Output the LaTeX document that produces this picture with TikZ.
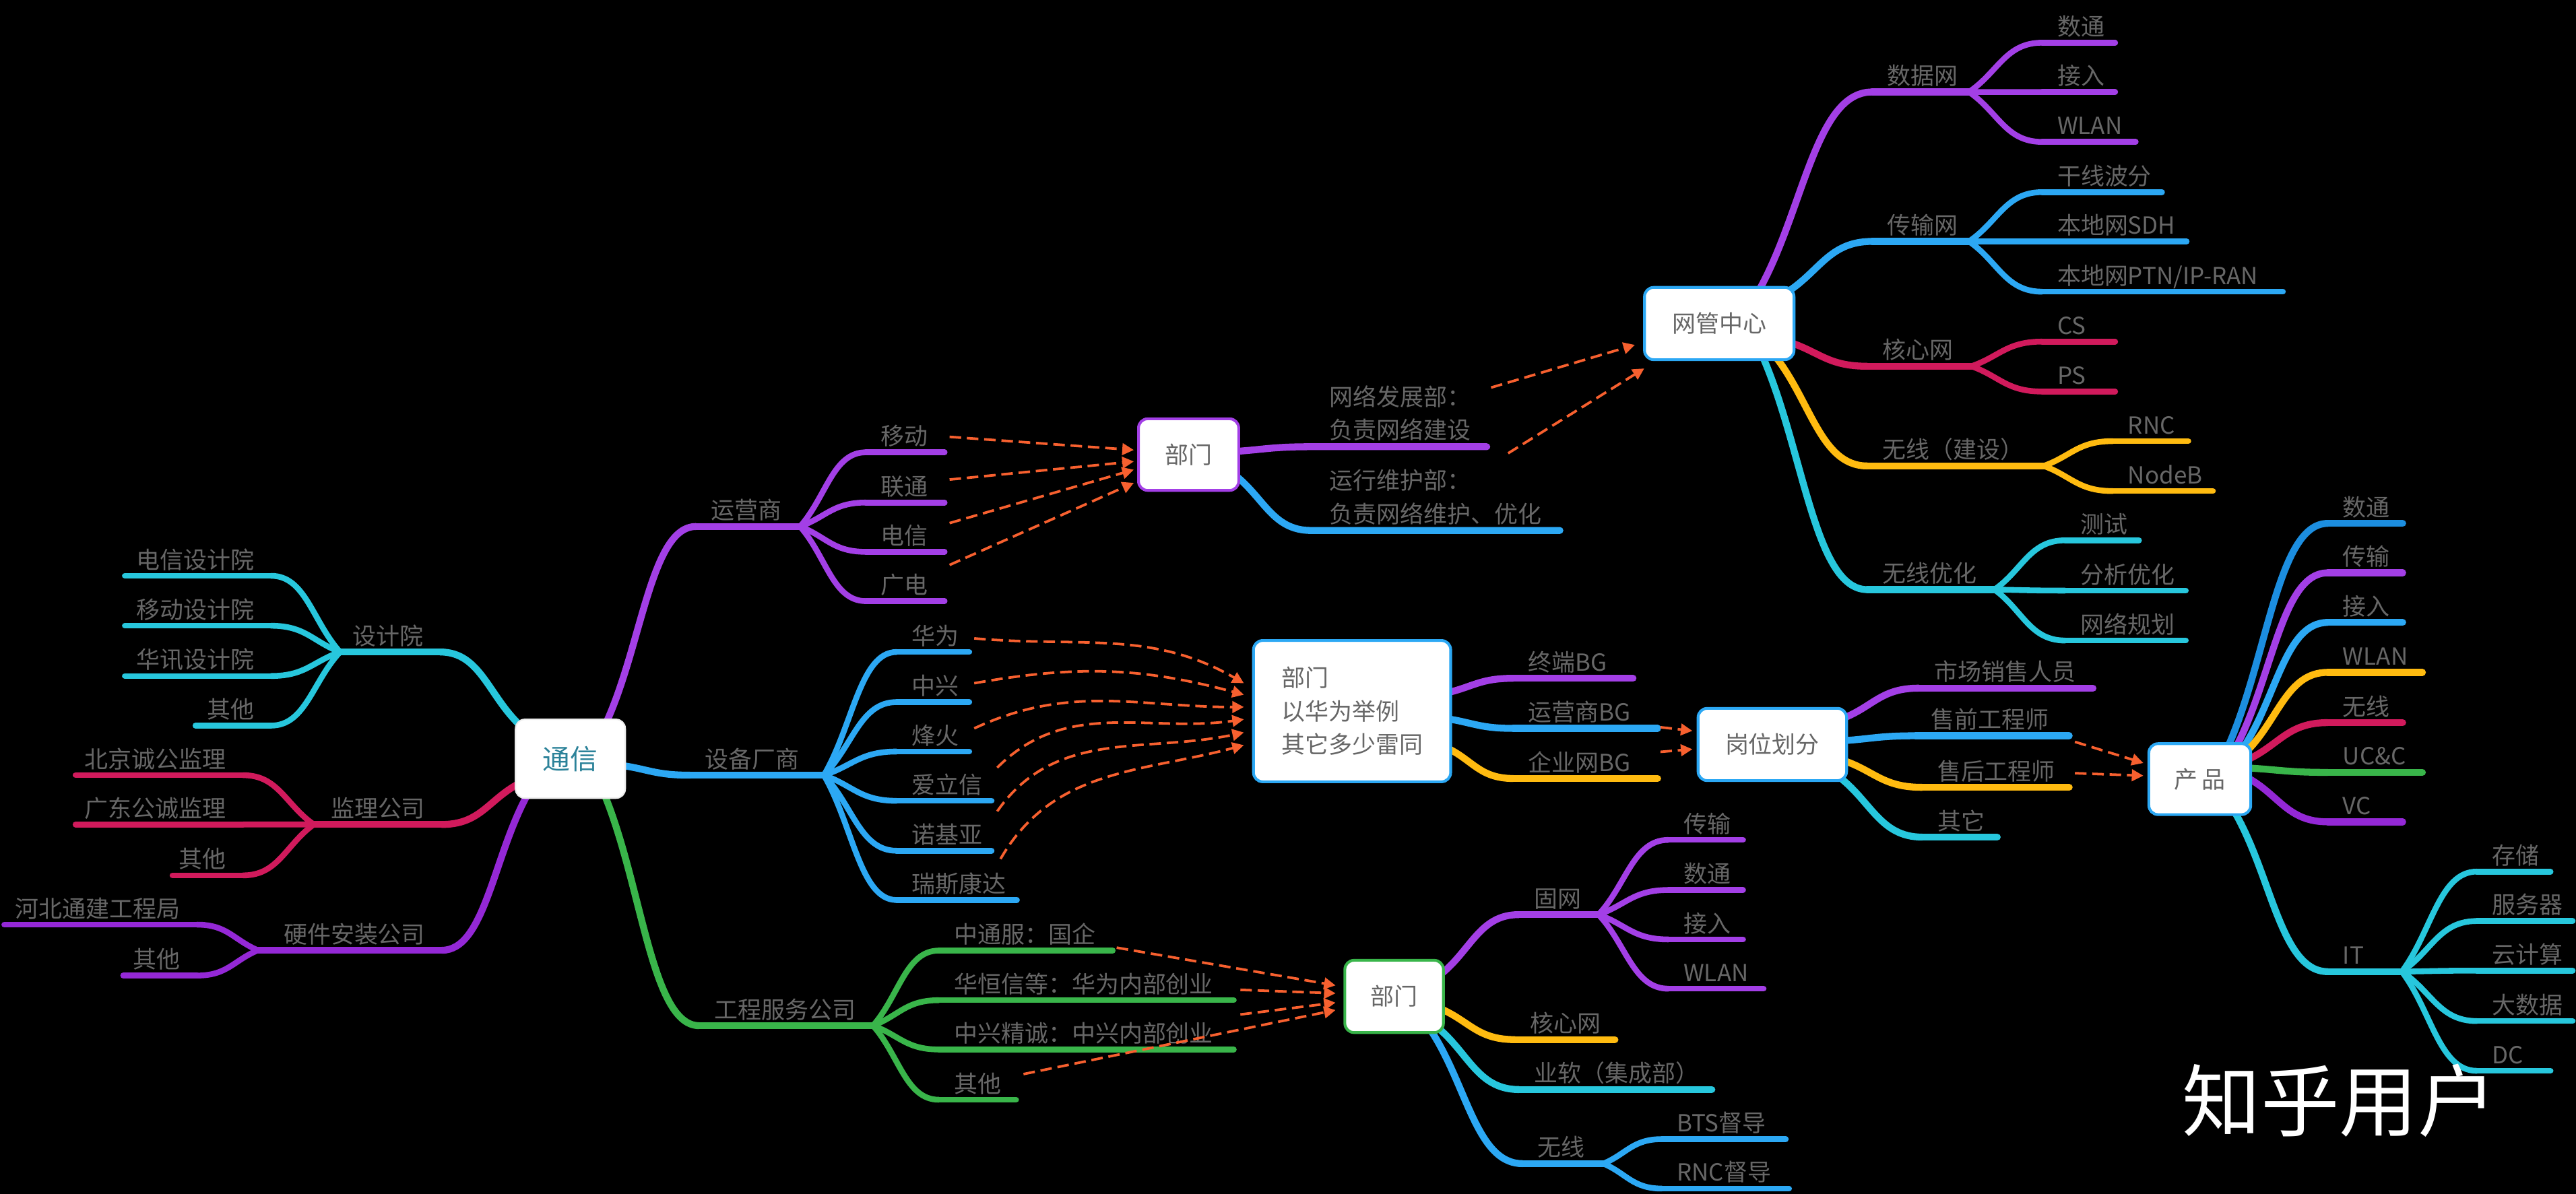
\documentclass[tikz,border=0pt]{standalone}
\usepackage{fontspec}
\setmainfont{Noto Sans CJK SC}
\usepackage{tikz}
\usetikzlibrary{arrows.meta,calc}
\usepackage{xcolor}

\definecolor{mmpurple}{HTML}{A33FE6}
\definecolor{mmviolet}{HTML}{9428D6}
\definecolor{mmblue}{HTML}{2CA8F4}
\definecolor{mmdeep}{HTML}{1C8EE0}
\definecolor{mmcyan}{HTML}{27C7DD}
\definecolor{mmred}{HTML}{D11A5C}
\definecolor{mmamber}{HTML}{FFBB10}
\definecolor{mmgreen}{HTML}{39B54A}
\definecolor{mmorange}{HTML}{F7602F}
\definecolor{mmgray}{HTML}{676767}
\definecolor{mmteal}{HTML}{2B8299}
\definecolor{mmlight}{HTML}{EDEDED}

\tikzset{
  trunk/.style={line width=3pt, line cap=round},
  twig/.style={line width=2.5pt, line cap=round},
  curvy/.style={to path={.. controls ($(\tikztostart)!.4!(\tikztotarget)$) and ($(\tikztotarget)!.5!(\tikztostart|-\tikztotarget)$) .. (\tikztotarget)}},
  word/.style={text=mmgray, inner sep=0pt, font=\fontsize{10.2}{14.4}\selectfont},
  box/.style={draw=#1, fill=white, line width=1.2pt, rounded corners=4pt, text=mmgray, font=\fontsize{10.2}{14.4}\selectfont},
  link/.style={mmorange, line width=1.1pt, dash pattern=on 5pt off 2.5pt, -{Triangle[length=5pt,width=5pt]}},
}

% topic growing to the right / to the left: name, x1, x2, y, colour, text
\newcommand{\rtopic}[7][twig]{%
  \coordinate (#2-a) at (#3,-#5);
  \coordinate (#2-b) at (#4,-#5);
  \draw[#6, #1] (#2-a) -- (#2-b);
  \node[word, anchor=base west] (#2) at ($(#2-a)+(9,4.5)$) {#7};
}
\newcommand{\ltopic}[7][twig]{%
  \coordinate (#2-a) at (#3,-#5);
  \coordinate (#2-b) at (#4,-#5);
  \draw[#6, #1] (#2-a) -- (#2-b);
  \node[word, anchor=base east] (#2) at ($(#2-b)+(-10,4.5)$) {#7};
}

\begin{document}
\begin{tikzpicture}[x=0.025cm, y=0.025cm]
\path[use as bounding box, fill=black] (0,0) rectangle (1568,-727);

\coordinate (tx-sjy) at (317,-442);
\coordinate (tx-yys) at (369,-440);
\coordinate (tx-sb) at (378,-466);
\coordinate (tx-jl) at (316,-477);
\coordinate (tx-yj) at (321,-484);
\coordinate (tx-gc) at (368,-484);
\coordinate (bm1-p1) at (750,-275);
\coordinate (bm1-p2) at (750,-288);
\coordinate (wg-p1) at (1070,-178);
\coordinate (wg-p2) at (1086,-179);
\coordinate (wg-p3) at (1088,-208);
\coordinate (wg-p4) at (1079,-215);
\coordinate (wg-p5) at (1072,-215);
\coordinate (bm2-p1) at (880,-422);
\coordinate (bm2-p2) at (880,-437.5);
\coordinate (bm2-p3) at (880,-455);
\coordinate (gw-p1) at (1122,-437.3);
\coordinate (gw-p2) at (1122,-451);
\coordinate (gw-p3) at (1122,-463);
\coordinate (gw-p4) at (1118,-472);
\coordinate (cp-p1) at (1356,-455);
\coordinate (cp-p2) at (1361,-455);
\coordinate (cp-p3) at (1365,-456);
\coordinate (cp-p4) at (1367,-458);
\coordinate (cp-p5) at (1368,-462.6);
\coordinate (cp-p6) at (1368,-467.6);
\coordinate (cp-p7) at (1368,-473.5);
\coordinate (cp-p8) at (1360,-494);
\coordinate (bm3-p1) at (876,-594);
\coordinate (bm3-p2) at (876,-613.8);
\coordinate (bm3-p3) at (873,-624);
\coordinate (bm3-p4) at (870,-626);

% left side
\ltopic[trunk]{sjy}{207}{268}{397}{mmcyan}{设计院}
\draw[mmcyan, trunk] (tx-sjy) to[curvy] (sjy-b);
\ltopic{dxsj}{76}{165}{350.6}{mmcyan}{电信设计院}
\ltopic{ydsj}{76}{165}{381}{mmcyan}{移动设计院}
\ltopic{hxsj}{76}{165}{411.6}{mmcyan}{华讯设计院}
\ltopic{sjqt}{119}{165}{441.8}{mmcyan}{其他}
\foreach \k in {dxsj,ydsj,hxsj,sjqt} \draw[mmcyan, twig] (sjy-a) to[curvy] (\k-b);

\ltopic[trunk]{jl}{191}{269}{502}{mmred}{监理公司}
\draw[mmred, trunk] (tx-jl) to[curvy] (jl-b);
\ltopic{bjjl}{46}{148}{472}{mmred}{北京诚公监理}
\ltopic{gdjl}{46}{148}{502}{mmred}{广东公诚监理}
\ltopic{jlqt}{105}{148}{533}{mmred}{其他}
\foreach \k in {bjjl,gdjl,jlqt} \draw[mmred, twig] (jl-a) to[curvy] (\k-b);

\ltopic[trunk]{yj}{157}{269}{578.6}{mmviolet}{硬件安装公司}
\draw[mmviolet, trunk] (tx-yj) to[curvy] (yj-b);
\ltopic{hbtj}{2.6}{120}{563}{mmviolet}{河北通建工程局}
\ltopic{yjqt}{75}{120}{594}{mmviolet}{其他}
\foreach \k in {hbtj,yjqt} \draw[mmviolet, twig] (yj-a) to[curvy] (\k-b);

% 运营商
\rtopic[trunk]{yys}{423.6}{487}{320.6}{mmpurple}{运营商}
\draw[mmpurple, trunk] (tx-yys) to[curvy] (yys-a);
\rtopic{ydg}{527}{575}{275.4}{mmpurple}{移动}
\rtopic{lt}{527}{575}{306}{mmpurple}{联通}
\rtopic{dxx}{527}{575}{336}{mmpurple}{电信}
\rtopic{gdn}{527}{575}{366}{mmpurple}{广电}
\foreach \k in {ydg,lt,dxx,gdn} \draw[mmpurple, twig] (yys-b) to[curvy] (\k-a);

\coordinate (wlfz-a) at (798,-272);
\coordinate (wlfz-b) at (905,-272);
\draw[mmpurple, trunk] (bm1-p1) to[curvy] (wlfz-a) -- (wlfz-b);
\node[word, align=left, anchor=south west] (wlfz) at ($(wlfz-a)+(11,3.3)$) {网络发展部：\\负责网络建设};
\coordinate (yxwh-a) at (798,-323);
\coordinate (yxwh-b) at (949.5,-323);
\draw[mmblue, trunk] (bm1-p2) to[curvy] (yxwh-a) -- (yxwh-b);
\node[word, align=left, anchor=south west] (yxwh) at ($(yxwh-a)+(11,3.3)$) {运行维护部：\\负责网络维护、优化};

% 网管中心
\rtopic[trunk]{sjw}{1139.5}{1198.5}{56}{mmpurple}{数据网}
\draw[mmpurple, trunk] (wg-p1) to[curvy] (sjw-a);
\rtopic{st1}{1243}{1287.5}{26}{mmpurple}{数通}
\rtopic{jr1}{1243}{1287.5}{56}{mmpurple}{接入}
\rtopic{wlan1}{1243}{1300}{86.4}{mmpurple}{WLAN}
\foreach \k in {st1,jr1,wlan1} \draw[mmpurple, twig] (sjw-b) to[curvy] (\k-a);

\rtopic[trunk]{csw}{1139.5}{1198.5}{147}{mmblue}{传输网}
\draw[mmblue, trunk] (wg-p2) to[curvy] (csw-a);
\rtopic{gxbf}{1243}{1316}{117}{mmblue}{干线波分}
\rtopic{sdh}{1243}{1331}{147}{mmblue}{本地网SDH}
\rtopic{ptn}{1243}{1389.6}{177.6}{mmblue}{本地网PTN/IP-RAN}
\foreach \k in {gxbf,sdh,ptn} \draw[mmblue, twig] (csw-b) to[curvy] (\k-a);

\rtopic[trunk]{hxw}{1136.5}{1200}{223}{mmred}{核心网}
\draw[mmred, trunk] (wg-p3) to[curvy] (hxw-a);
\rtopic{cs}{1243}{1287.5}{208}{mmred}{CS}
\rtopic{ps}{1243}{1287.5}{238.4}{mmred}{PS}
\foreach \k in {cs,ps} \draw[mmred, twig] (hxw-b) to[curvy] (\k-a);

\rtopic[trunk]{wxjs}{1136.5}{1244}{283.7}{mmamber}{无线（建设）}
\draw[mmamber, trunk] (wg-p4) to[curvy] (wxjs-a);
\rtopic{rnc}{1286}{1332}{268.6}{mmamber}{RNC}
\rtopic{nodeb}{1286}{1347}{299}{mmamber}{NodeB}
\foreach \k in {rnc,nodeb} \draw[mmamber, twig] (wxjs-b) to[curvy] (\k-a);

\rtopic[trunk]{wxyh}{1136.5}{1214}{359}{mmcyan}{无线优化}
\draw[mmcyan, trunk] (wg-p5) to[curvy] (wxyh-a);
\rtopic{cshi}{1257}{1302}{329}{mmcyan}{测试}
\rtopic{fxyh}{1257}{1330.5}{359.6}{mmcyan}{分析优化}
\rtopic{wlgh}{1257}{1330.5}{390}{mmcyan}{网络规划}
\foreach \k in {cshi,fxyh,wlgh} \draw[mmcyan, twig] (wxyh-b) to[curvy] (\k-a);

% 设备厂商
\rtopic[trunk]{sb}{420}{501.5}{472}{mmblue}{设备厂商}
\draw[mmblue, trunk] (tx-sb) to[curvy] (sb-a);
\rtopic{hw}{545.7}{590}{397}{mmblue}{华为}
\rtopic{zx}{545.7}{590}{427.5}{mmblue}{中兴}
\rtopic{fh}{545.7}{590}{457.6}{mmblue}{烽火}
\rtopic{alx}{545.7}{603.6}{487.6}{mmblue}{爱立信}
\rtopic{nkia}{545.7}{603.6}{518}{mmblue}{诺基亚}
\rtopic{rskd}{545.7}{619}{548}{mmblue}{瑞斯康达}
\foreach \k in {hw,zx,fh,alx,nkia,rskd} \draw[mmblue, twig] (sb-b) to[curvy] (\k-a);

\rtopic[trunk]{zdbg}{921}{994}{413}{mmpurple}{终端BG}
\draw[mmpurple, trunk] (bm2-p1) to[curvy] (zdbg-a);
\rtopic[trunk]{yysbg}{921}{1009}{443.5}{mmblue}{运营商BG}
\draw[mmblue, trunk] (bm2-p2) to[curvy] (yysbg-a);
\rtopic[trunk]{qywbg}{921}{1009}{474}{mmamber}{企业网BG}
\draw[mmamber, trunk] (bm2-p3) to[curvy] (qywbg-a);

\rtopic[trunk]{scxs}{1168}{1274}{419}{mmpurple}{市场销售人员}
\draw[mmpurple, trunk] (gw-p1) to[curvy] (scxs-a);
\rtopic[trunk]{sqgc}{1166}{1259.5}{448}{mmblue}{售前工程师}
\draw[mmblue, trunk] (gw-p2) to[curvy] (sqgc-a);
\rtopic[trunk]{shgc}{1170}{1259.5}{479.4}{mmamber}{售后工程师}
\draw[mmamber, trunk] (gw-p3) to[curvy] (shgc-a);
\rtopic[trunk]{gwqt}{1170}{1215.7}{509.7}{mmcyan}{其它}
\draw[mmcyan, trunk] (gw-p4) to[curvy] (gwqt-a);

% 产品
\rtopic[trunk]{pst}{1416.8}{1462.5}{318.7}{mmdeep}{数通}
\draw[mmdeep, trunk] (cp-p1) to[curvy] (pst-a);
\rtopic[trunk]{pcs}{1416.8}{1462.5}{348.8}{mmpurple}{传输}
\draw[mmpurple, trunk] (cp-p2) to[curvy] (pcs-a);
\rtopic[trunk]{pjr}{1416.8}{1462.5}{379}{mmblue}{接入}
\draw[mmblue, trunk] (cp-p3) to[curvy] (pjr-a);
\rtopic[trunk]{pwlan}{1416.8}{1474.5}{409.4}{mmamber}{WLAN}
\draw[mmamber, trunk] (cp-p4) to[curvy] (pwlan-a);
\rtopic[trunk]{pwx}{1416.8}{1462.5}{440}{mmred}{无线}
\draw[mmred, trunk] (cp-p5) to[curvy] (pwx-a);
\rtopic[trunk]{pucc}{1416.8}{1474.5}{470.3}{mmgreen}{UC\&C}
\draw[mmgreen, trunk] (cp-p6) to[curvy] (pucc-a);
\rtopic[trunk]{pvc}{1416.8}{1462.5}{500.4}{mmviolet}{VC}
\draw[mmviolet, trunk] (cp-p7) to[curvy] (pvc-a);
\rtopic[trunk]{pit}{1416.8}{1462}{591.6}{mmcyan}{IT}
\draw[mmcyan, trunk] (cp-p8) to[curvy] (pit-a);
\rtopic{cc}{1507.6}{1552.5}{530.7}{mmcyan}{存储}
\rtopic{fwq}{1507.6}{1566}{560.8}{mmcyan}{服务器}
\rtopic{yjs}{1507.6}{1566}{591}{mmcyan}{云计算}
\rtopic{dsj}{1507.6}{1566}{621.7}{mmcyan}{大数据}
\rtopic{dcc}{1507.6}{1552.5}{652}{mmcyan}{DC}
\foreach \k in {cc,fwq,yjs,dsj,dcc} \draw[mmcyan, twig] (pit-b) to[curvy] (\k-a);

% 工程服务公司
\rtopic[trunk]{gc}{425.5}{531.4}{624.5}{mmgreen}{工程服务公司}
\draw[mmgreen, trunk] (tx-gc) to[curvy] (gc-a);
\rtopic{ztf}{571.4}{677.3}{578.8}{mmgreen}{中通服：国企}
\rtopic{hhx}{571.4}{751}{609}{mmgreen}{华恒信等：华为内部创业}
\rtopic{zxjc}{571.4}{751}{639}{mmgreen}{中兴精诚：中兴内部创业}
\rtopic{gcqt}{571.4}{618.5}{669.6}{mmgreen}{其他}
\foreach \k in {ztf,hhx,zxjc,gcqt} \draw[mmgreen, twig] (gc-b) to[curvy] (\k-a);

\rtopic[trunk]{gwang}{924.5}{973}{556.9}{mmpurple}{固网}
\draw[mmpurple, trunk] (bm3-p1) to[curvy] (gwang-a);
\rtopic{gcs}{1015.5}{1061}{511.4}{mmpurple}{传输}
\rtopic{gst}{1015.5}{1061}{541.9}{mmpurple}{数通}
\rtopic{gjr}{1015.5}{1061}{572}{mmpurple}{接入}
\rtopic{gwl}{1015.5}{1073.5}{602}{mmpurple}{WLAN}
\foreach \k in {gcs,gst,gjr,gwl} \draw[mmpurple, twig] (gwang-b) to[curvy] (\k-a);
\rtopic[trunk]{ghx}{922}{983}{633}{mmamber}{核心网}
\draw[mmamber, trunk] (bm3-p2) to[curvy] (ghx-a);
\rtopic[trunk]{yr}{924.5}{1042}{663.4}{mmcyan}{业软（集成部）}
\draw[mmcyan, trunk] (bm3-p3) to[curvy] (yr-a);
\rtopic[trunk]{gwx}{926.6}{976}{708.5}{mmblue}{无线}
\draw[mmblue, trunk] (bm3-p4) to[curvy] (gwx-a);
\rtopic{bts}{1011.5}{1087}{693.6}{mmblue}{BTS督导}
\rtopic{rncdd}{1011.5}{1089}{723.7}{mmblue}{RNC督导}
\foreach \k in {bts,rncdd} \draw[mmblue, twig] (gwx-b) to[curvy] (\k-a);

% boxes
\node[box=mmlight, line width=0.6pt, text=mmteal, font=\fontsize{11.9}{14}\selectfont, minimum width=1.67cm, minimum height=1.2cm] (tx) at (347.2,-462) {通信};
\node[box=mmpurple, minimum width=1.525cm, minimum height=1.09cm] (bm1) at (723.5,-276.8) {部门};
\node[box=mmblue, minimum width=2.275cm, minimum height=1.1cm] (wg) at (1046.5,-197) {网管中心};
\node[box=mmblue, align=left, minimum width=3cm, minimum height=2.15cm] (bm2) at (823,-433) {部门\\以华为举例\\其它多少雷同};
\node[box=mmblue, minimum width=2.26cm, minimum height=1.1cm] (gw) at (1078.8,-453.3) {岗位划分};
\node[box=mmblue, minimum width=1.55cm, minimum height=1.08cm] (cp) at (1339,-474.4) {产\hspace{2pt}品};
\node[box=mmgreen, minimum width=1.5cm, minimum height=1.1cm] (bm3) at (848.6,-606.7) {部门};

% dashed links
\draw[link] ($(ydg-b)+(3,9.4)$) -- ($(bm1.west)+(-2,2.8)$);
\draw[link] ($(lt-b)+(3,14)$) -- ($(bm1.west)+(-2,-4.2)$);
\draw[link] ($(dxx-b)+(3,17.5)$) -- ($(bm1.west)+(-2,-9.2)$);
\draw[link] ($(gdn-b)+(3,22)$) -- ($(bm1.west)+(-2,-17.2)$);
\draw[link] ($(wlfz-b)+(2.6,36)$) -- ($(wg.west)+(-5,-13)$);
\draw[link] ($(wlfz-b)+(13,-4)$) -- ($(wg.south west)+(0.7,-4.5)$);
\draw[link] ($(hw-b)+(3,8.3)$) to[out=-5,in=150] ($(bm2.west)+(-5,17)$);
\draw[link] ($(zx-b)+(3,11.5)$) to[out=10,in=165] ($(bm2.west)+(-5,10)$);
\draw[link] ($(fh-b)+(3,14.1)$) to[out=25,in=180] ($(bm2.west)+(-5,2.5)$);
\draw[link] ($(alx-b)+(3.4,20.2)$) to[out=45,in=188] ($(bm2.west)+(-5,-5)$);
\draw[link] ($(nkia-b)+(3.4,24)$) to[out=55,in=192] ($(bm2.west)+(-5,-13)$);
\draw[link] ($(rskd-b)+(-10,25)$) to[out=60,in=195] ($(bm2.west)+(-5,-20.7)$);
\draw[link] ($(yysbg-b)+(1.7,0.7)$) -- ($(gw.west)+(-2.6,8.3)$);
\draw[link] ($(qywbg-b)+(1.7,16.2)$) -- ($(gw.west)+(-2.6,-2.9)$);
\draw[link] ($(sqgc-b)+(3.5,-3.7)$) -- ($(cp.west)+(-2.5,9.8)$);
\draw[link] ($(shgc-b)+(3.5,8.6)$) -- ($(cp.west)+(-2.5,2.1)$);
\draw[link] ($(ztf-b)+(2.4,1.8)$) -- ($(bm3.west)+(-4.8,6.7)$);
\draw[link] ($(hhx-b)+(4,6.3)$) -- ($(bm3.west)+(-4.8,1.9)$);
\draw[link] ($(zxjc-b)+(4,21.3)$) -- ($(bm3.west)+(-4.8,-3.8)$);
\draw[link] ($(gcqt-b)+(4.5,15.6)$) -- ($(bm3.west)+(-4.8,-8.3)$);

\node[text=white, font=\fontsize{34}{40}\selectfont] (zhwm) at (1424,-670) {知乎用户};
\end{tikzpicture}
\end{document}
